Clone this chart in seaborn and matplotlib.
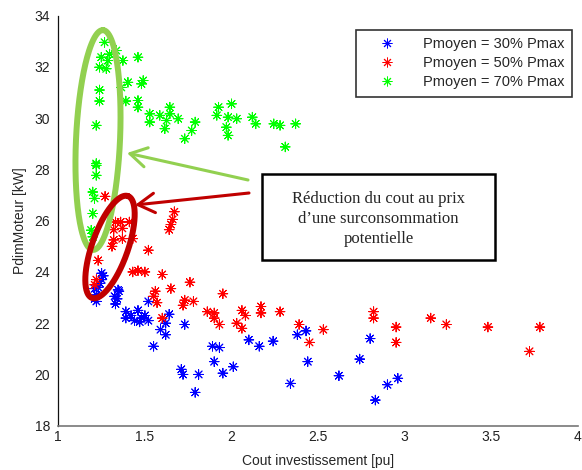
import numpy as np
import pandas as pd
import matplotlib
matplotlib.use("Agg")
import matplotlib.pyplot as plt
import seaborn as sns
from matplotlib.patches import Rectangle

# ---------------- data ----------------
labels = ["Pmoyen = 30% Pmax", "Pmoyen = 50% Pmax", "Pmoyen = 70% Pmax"]
colors = ["#0000ff", "#ff0000", "#00ff00"]

blue_x = [1.25, 1.26, 1.25, 1.24, 1.23, 1.22, 1.22, 1.21, 1.35, 1.34, 1.33, 1.39, 1.39,
          1.46, 1.44, 1.48, 1.52, 1.47, 1.52, 1.64, 1.62, 1.59, 1.62, 1.73, 1.55, 1.89,
          1.93, 1.90, 1.71, 1.72, 1.81, 1.95, 2.01, 1.79, 2.10, 2.16, 2.24, 2.38, 2.43,
          2.44, 2.34, 2.62, 2.74, 2.80, 2.90, 2.96, 2.83, 1.50, 1.42, 1.21, 1.345, 1.325]
blue_y = [23.95, 23.85, 23.70, 23.55, 23.40, 23.10, 22.85, 22.95, 23.25, 22.95, 22.75,
          22.45, 22.20, 22.50, 22.10, 22.20, 22.10, 22.05, 22.85, 22.35, 22.00, 21.75,
          21.55, 21.95, 21.10, 21.10, 21.05, 20.50, 20.20, 20.00, 20.00, 20.05, 20.30,
          19.30, 21.35, 21.10, 21.30, 21.55, 21.70, 20.50, 19.65, 19.95, 20.60, 21.40,
          19.60, 19.85, 19.00, 22.30, 22.30, 23.35, 23.30, 23.05]

red_x = [1.27, 1.67, 1.66, 1.65, 1.64, 1.33, 1.36, 1.41, 1.32, 1.37, 1.32, 1.37, 1.43,
         1.31, 1.52, 1.23, 1.22, 1.21, 1.43, 1.50, 1.46, 1.60, 1.76, 1.65, 1.56, 1.55,
         1.57, 1.73, 1.78, 1.72, 1.95, 1.86, 1.90, 1.90, 1.93, 2.06, 2.08, 2.03, 2.06,
         2.17, 2.17, 2.28, 1.60, 2.39, 2.45, 2.53, 2.82, 2.82, 2.95, 2.95, 3.15, 3.24,
         3.48, 3.78, 3.72]
red_y = [26.95, 26.35, 26.05, 25.85, 25.65, 25.95, 25.95, 25.95, 25.65, 25.70, 25.25,
         25.30, 25.30, 25.00, 24.85, 24.45, 23.70, 23.50, 24.00, 24.00, 24.05, 23.90,
         23.60, 23.35, 23.25, 23.05, 22.80, 22.90, 22.85, 22.70, 23.15, 22.45, 22.40,
         22.20, 21.95, 22.50, 22.30, 22.00, 21.80, 22.65, 22.40, 22.45, 22.20, 21.95,
         21.25, 21.75, 22.45, 22.20, 21.85, 21.25, 22.20, 21.95, 21.85, 21.85, 20.90]

green_x = [1.267, 1.248, 1.296, 1.286, 1.335, 1.238, 1.277, 1.373, 1.46, 1.402, 1.364,
           1.49, 1.48, 1.238, 1.238, 1.39, 1.46, 1.46, 1.528, 1.528, 1.586, 1.644, 1.644,
           1.625, 1.692, 1.615, 1.79, 1.77, 1.73, 1.219, 1.925, 2.00, 1.915, 1.98, 2.03,
           1.97, 1.98, 2.12, 2.14, 2.244, 2.28, 2.37, 2.31, 1.219, 1.219, 1.219, 1.199,
           1.209, 1.199, 1.19, 1.199]
green_y = [32.96, 32.38, 32.50, 32.25, 32.64, 31.99, 31.93, 32.25, 32.38, 31.40, 31.20,
           31.47, 31.34, 31.10, 30.67, 30.67, 30.69, 30.43, 30.17, 29.85, 30.11, 30.43,
           30.17, 29.91, 29.98, 29.59, 29.85, 29.52, 29.20, 29.72, 30.43, 30.56, 30.11,
           30.04, 29.98, 29.65, 29.33, 30.04, 29.78, 29.78, 29.72, 29.78, 28.88, 28.23,
           28.16, 27.77, 27.12, 26.87, 26.28, 25.63, 25.37]

annot_text = "Réduction du cout au prix\nd\u2019une surconsommation\npotentielle"

df = pd.concat([
    pd.DataFrame({"x": blue_x, "y": blue_y, "serie": labels[0]}),
    pd.DataFrame({"x": red_x, "y": red_y, "serie": labels[1]}),
    pd.DataFrame({"x": green_x, "y": green_y, "serie": labels[2]}),
], ignore_index=True)

# ---------------- figure ----------------
sns.set_style("white")
plt.rcParams["font.family"] = ["Liberation Sans", "DejaVu Sans"]

W, H = 582, 470
fig = plt.figure(figsize=(W / 100, H / 100), dpi=100)
ax = fig.add_axes([58.3 / W, (H - 425.7) / H, (578 - 58.3) / W, (425.7 - 15.7) / H])

sns.scatterplot(data=df, x="x", y="y", hue="serie", hue_order=labels,
                palette=colors, marker=(8, 2, 0), s=48, linewidth=0.7,
                ax=ax, legend=False)

ax.set_xlim(1, 4)
ax.set_ylim(18, 34)
ax.set_xticks([1, 1.5, 2, 2.5, 3, 3.5, 4])
ax.set_xticklabels(["1", "1.5", "2", "2.5", "3", "3.5", "4"])
ax.set_yticks(range(18, 35, 2))
ax.tick_params(direction="in", length=3, width=0.8, labelsize=10, colors="#222222",
               pad=3)
ax.tick_params(axis="y", pad=6)
for s in ["top", "right"]:
    ax.spines[s].set_visible(False)
ax.spines["left"].set_color("#111111")
ax.spines["bottom"].set_color("#777777")
ax.spines["left"].set_linewidth(0.9)
ax.spines["bottom"].set_linewidth(1.2)
ax.set_xlabel("Cout investissement [pu]", fontsize=10, labelpad=7)
ax.set_ylabel("PdimMoteur [kW]", fontsize=10, labelpad=5)

# legend
handles = [plt.Line2D([], [], linestyle="none", marker=(8, 2, 0), markersize=7,
                      markeredgewidth=0.7, color=c) for c in colors]
leg = ax.legend(handles, labels, loc="upper right", bbox_to_anchor=(1.0, 0.98),
                fontsize=10.5, frameon=True, fancybox=False, edgecolor="black",
                handletextpad=0.9, borderpad=0.5, labelspacing=0.35, handlelength=3.2,
                borderaxespad=0.4)
leg.get_frame().set_linewidth(1.2)

# ---------------- annotations (in figure pixel space) ----------------
fig.canvas.draw()
inv = ax.transData.inverted()

def ellipse_data(cx, cy, a, b, ang_deg):
    t = np.linspace(0, 2 * np.pi, 200)
    th = np.deg2rad(ang_deg)
    ex = a * np.cos(t) * np.cos(th) - b * np.sin(t) * np.sin(th)
    ey = a * np.cos(t) * np.sin(th) + b * np.sin(t) * np.cos(th)
    pts = np.column_stack([cx + ex, (H - cy) + ey])
    return inv.transform(pts)

g = ellipse_data(98, 140, 110, 22, 87.4)
ax.plot(g[:, 0], g[:, 1], color="#92d050", lw=4.3, clip_on=False, zorder=5)
r = ellipse_data(110, 247, 54, 18, 70.6)
ax.plot(r[:, 0], r[:, 1], color="#c00000", lw=4.3, clip_on=False, zorder=5)

arrow_kw = dict(arrowstyle="->,head_length=0.85,head_width=0.5", lw=2.2,
                mutation_scale=14, shrinkA=0, shrinkB=0)
ax.annotate("", xy=(127, H - 153), xycoords="figure pixels",
            xytext=(248, H - 180), textcoords="figure pixels",
            arrowprops=dict(color="#92d050", **arrow_kw), zorder=6)
ax.annotate("", xy=(135, H - 205), xycoords="figure pixels",
            xytext=(249, H - 193), textcoords="figure pixels",
            arrowprops=dict(color="#c00000", **arrow_kw), zorder=6)

box_l, box_t, box_r, box_b = 261.7, 174.3, 495, 260
fig.patches.append(Rectangle((box_l / W, (H - box_b) / H), (box_r - box_l) / W,
                             (box_b - box_t) / H, transform=fig.transFigure,
                             facecolor="white", edgecolor="black", lw=1.8, zorder=7))
fig.text((box_l + box_r) / 2 / W, (H - 219) / H, annot_text,
         ha="center", va="center", fontsize=12, family=["Liberation Serif", "DejaVu Serif"],
         linespacing=1.35, zorder=8)

fig.savefig("out.png", dpi=100)
